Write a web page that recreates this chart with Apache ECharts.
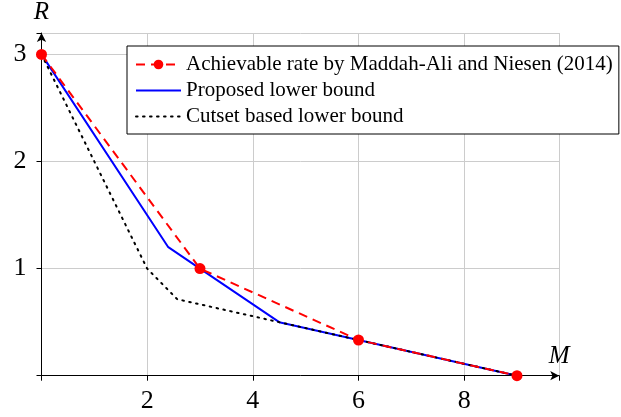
<!DOCTYPE html>
<html><head><meta charset="utf-8">
<script src="https://cdn.jsdelivr.net/npm/echarts@6/dist/echarts.min.js"></script>
<style>html,body{margin:0;padding:0;background:#fff}#c{width:621px;height:417px}</style>
</head><body><div id="c"></div>
<script>
// Data
const seriesNames = [
  'Achievable rate by Maddah-Ali and Niesen (2014)',
  'Proposed lower bound',
  'Cutset based lower bound'
];
const achievableM = [0, 3, 6, 9];
const achievableR = [3, 1, 0.3333, 0];
const proposedM = [0, 2.4, 3, 4.5, 6, 9];
const proposedR = [3, 1.2, 1, 0.5, 0.3333, 0];
const cutsetM = [0, 2, 2.571, 9];
const cutsetR = [3, 1, 0.714, 0];
const xTickLabels = [2, 4, 6, 8];
const yTickLabels = [1, 2, 3];

const pairs = (xs, ys) => xs.map((x, i) => [x, ys[i]]);
const FONT = 'Liberation Serif';

const chart = echarts.init(document.getElementById('c'), null, {renderer: 'canvas'});
chart.setOption({
  animation: false,
  backgroundColor: '#ffffff',
  textStyle: {fontFamily: FONT},
  grid: {left: 41.5, top: 30.7, right: 621 - 41.5 - 9.8 * 52.83, bottom: 41.3, containLabel: false},
  xAxis: {
    type: 'value', min: 0, max: 9.8, interval: 2,
    name: 'M', nameLocation: 'end', nameGap: 0,
    nameTextStyle: {fontFamily: FONT, fontStyle: 'italic', fontSize: 25, color: '#000', align: 'center', verticalAlign: 'bottom', padding: [0, 0, 7, 0]},
    axisLine: {show: true, onZero: false, symbol: ['none', 'arrow'], symbolSize: [7, 9], lineStyle: {color: '#000', width: 1}},
    axisTick: {show: true, length: 5, lineStyle: {color: '#000'}},
    splitLine: {show: true, lineStyle: {color: '#cccccc', width: 1}},
    axisLabel: {fontFamily: FONT, fontSize: 26, color: '#000', margin: 12,
      formatter: v => (xTickLabels.indexOf(v) >= 0 ? String(v) : '')}
  },
  yAxis: {
    type: 'value', min: 0, max: 3.2, interval: 1,
    name: 'R', nameLocation: 'end', nameGap: 8,
    nameTextStyle: {fontFamily: FONT, fontStyle: 'italic', fontSize: 25, color: '#000', align: 'center'},
    axisLine: {show: true, onZero: false, symbol: ['none', 'arrow'], symbolSize: [7, 9], lineStyle: {color: '#000', width: 1}},
    axisTick: {show: true, length: 5, lineStyle: {color: '#000'}},
    splitLine: {show: true, lineStyle: {color: '#cccccc', width: 1}},
    axisLabel: {fontFamily: FONT, fontSize: 26, color: '#000', margin: 15,
      formatter: v => (yTickLabels.indexOf(v) >= 0 ? String(v) : '')}
  },
  legend: {
    orient: 'vertical', left: 127, top: 46,
    backgroundColor: '#fff', borderColor: '#000', borderWidth: 1,
    padding: [8, 6, 7, 8], itemGap: 5, itemWidth: 45, itemHeight: 12,
    textStyle: {fontFamily: FONT, fontSize: 21, color: '#000', lineHeight: 20},
    data: [
      {name: seriesNames[0]},
      {name: seriesNames[1], itemStyle: {opacity: 0}},
      {name: seriesNames[2], itemStyle: {opacity: 0}}
    ]
  },
  series: [
    {
      name: seriesNames[0], type: 'line', data: pairs(achievableM, achievableR), z: 4,
      symbol: 'circle', symbolSize: 11, showAllSymbol: true,
      itemStyle: {color: '#ff0000'},
      lineStyle: {color: '#ff0000', width: 2, type: [9, 6]}
    },
    {
      name: seriesNames[1], type: 'line', data: pairs(proposedM, proposedR), z: 2,
      symbol: 'none', itemStyle: {color: '#0000ff'},
      lineStyle: {color: '#0000ff', width: 2}
    },
    {
      name: seriesNames[2], type: 'line', data: pairs(cutsetM, cutsetR), z: 3,
      symbol: 'none', itemStyle: {color: '#000'},
      lineStyle: {color: '#000', width: 2, type: [1.6, 5.4], cap: 'round'}
    }
  ]
});
</script></body></html>
